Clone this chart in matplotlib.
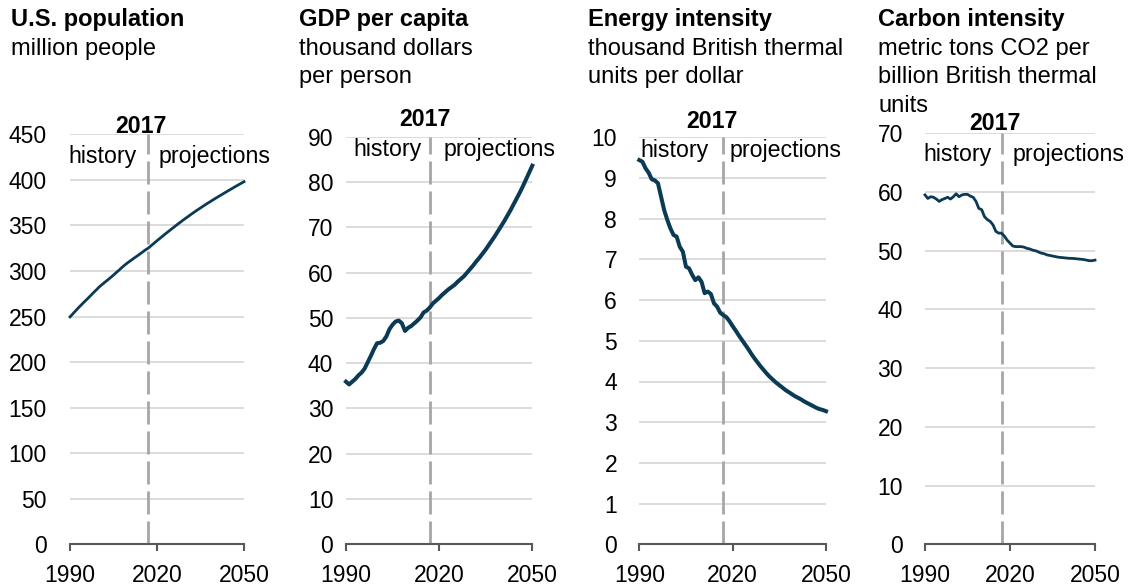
import matplotlib
matplotlib.use("Agg")
import matplotlib.pyplot as plt
import numpy as np

plt.rcParams['font.family'] = ['Liberation Sans', 'DejaVu Sans']

# ---- data -------------------------------------------------------------
years = list(range(1990, 2051))

# million people
population = [
    249.6, 253.0, 256.5, 259.9, 263.1, 266.3, 269.4, 272.6, 275.9, 279.0,
    282.2, 285.0, 287.6, 290.1, 292.8, 295.5, 298.4, 301.2, 304.1, 306.8,
    309.3, 311.6, 313.9, 316.1, 318.4, 320.7, 323.1, 325.1, 327.8, 330.5,
    333.2, 335.8, 338.4, 341.0, 343.5, 346.0, 348.5, 351.0, 353.4, 355.8,
    358.1, 360.4, 362.7, 364.9, 367.1, 369.2, 371.3, 373.4, 375.4, 377.4,
    379.4, 381.3, 383.2, 385.1, 387.0, 388.9, 390.7, 392.6, 394.4, 396.2,
    398.0,
]

# thousand dollars per person
gdp_per_capita = [
    35.9, 35.3, 35.9, 36.5, 37.3, 37.9, 38.8, 40.2, 41.6, 43.1,
    44.4, 44.5, 44.9, 45.9, 47.5, 48.5, 49.2, 49.4, 48.8, 47.1,
    47.8, 48.2, 48.8, 49.4, 50.1, 51.2, 51.6, 52.3, 53.2, 53.8,
    54.4, 55.1, 55.7, 56.3, 56.8, 57.3, 58.0, 58.6, 59.2, 60.0,
    60.8, 61.6, 62.5, 63.3, 64.2, 65.1, 66.1, 67.1, 68.1, 69.2,
    70.3, 71.4, 72.6, 73.8, 75.1, 76.4, 77.7, 79.1, 80.6, 82.1,
    83.6,
]

# thousand Btu per dollar
energy_intensity = [
    9.44, 9.40, 9.24, 9.13, 8.97, 8.94, 8.87, 8.54, 8.21, 7.97,
    7.76, 7.60, 7.56, 7.31, 7.19, 6.82, 6.78, 6.62, 6.49, 6.56,
    6.45, 6.17, 6.21, 6.15, 5.92, 5.84, 5.69, 5.63, 5.58, 5.48,
    5.36, 5.25, 5.13, 5.02, 4.91, 4.80, 4.68, 4.57, 4.47, 4.37,
    4.28, 4.19, 4.11, 4.04, 3.97, 3.91, 3.85, 3.79, 3.74, 3.69,
    3.64, 3.60, 3.56, 3.51, 3.47, 3.43, 3.39, 3.35, 3.32, 3.30,
    3.27,
]

# metric tons CO2 per billion Btu
carbon_intensity = [
    59.5, 58.9, 59.2, 59.1, 58.8, 58.4, 58.7, 58.9, 59.1, 58.8,
    59.2, 59.7, 59.2, 59.5, 59.6, 59.6, 59.3, 59.1, 58.4, 57.2,
    57.0, 55.8, 55.3, 55.0, 54.4, 53.3, 53.0, 53.0, 52.5, 51.8,
    51.3, 50.8, 50.7, 50.7, 50.7, 50.6, 50.4, 50.3, 50.1, 50.0,
    49.8, 49.6, 49.5, 49.3, 49.2, 49.1, 49.0, 48.9, 48.85, 48.8,
    48.75, 48.7, 48.7, 48.65, 48.6, 48.55, 48.5, 48.4, 48.3, 48.3,
    48.4,
]

titles = ["U.S. population", "GDP per capita", "Energy intensity", "Carbon intensity"]
subtitles = [
    ["million people"],
    ["thousand dollars", "per person"],
    ["thousand British thermal", "units per dollar"],
    ["metric tons CO2 per", "billion British thermal", "units"],
]
series = [population, gdp_per_capita, energy_intensity, carbon_intensity]
y_max = [450, 90, 10, 70]
y_step = [50, 10, 1, 10]
x_ticks = [1990, 2020, 2050]
split_year = 2017
split_label = "2017"
left_label = "history"
right_label = "projections"

# ---- layout / style ---------------------------------------------------
W, H = 1135, 587
FS = 16.5          # tick labels
FS_HEAD = 17.0     # panel headings
FS_NOTE = 16.7     # split annotations
LINE_COLOR = "#0b3a55"
GRID_COLOR = "#d9d9d9"
AXIS_COLOR = "#595959"
DASH_COLOR = "#a6a6a6"

# axes boxes in pixels: left, top, right, bottom
boxes = [(70, 134.3, 244, 544.3), (346, 136.7, 532.3, 544.3),
         (639.3, 137.3, 826, 544.3), (925, 133.3, 1095, 544.3)]
line_widths = [2.0, 2.9, 2.9, 2.0]
ytick_pads = [16.8, 9.1, 16.0, 15.8]
title_x = [11, 299, 588, 878]
# split label placements (pixels): 2017 centre x, 2017 baseline, history right, projections left, label baseline
split_pos = [(140.5, 133.2, 136.7, 158.3, 162.7),
             (425.0, 126.5, 421.7, 443.3, 156.5),
             (712.0, 127.5, 708.3, 730.0, 157.5),
             (995.0, 129.9, 991.7, 1013.0, 161.5)]

fig = plt.figure(figsize=(W / 100, H / 100), dpi=100)


def put(x, y, s, size, **kw):
    fig.text(x / W, 1 - y / H, s, fontsize=size, color="black", **kw)


for i in range(4):
    l, t, r, b = boxes[i]
    ax = fig.add_axes([l / W, 1 - b / H, (r - l) / W, (b - t) / H])
    ax.plot(years, series[i], color=LINE_COLOR, lw=line_widths[i],
            solid_joinstyle="round", clip_on=False, zorder=3)
    ax.axvline(split_year, color=DASH_COLOR, lw=2.0, ls=(0, (8.3, 2.5)), zorder=2)

    ax.set_xlim(1990, 2050)
    ax.set_ylim(0, y_max[i])
    ax.set_xticks(x_ticks)
    ax.set_yticks(np.arange(0, y_max[i] + y_step[i] / 2, y_step[i]))
    ax.grid(axis="y", color=GRID_COLOR, lw=1.3)
    ax.set_axisbelow(True)
    for side in ("left", "top", "right"):
        ax.spines[side].set_visible(False)
    ax.spines["bottom"].set_color(AXIS_COLOR)
    ax.spines["bottom"].set_linewidth(1.5)
    ax.tick_params(axis="y", length=0, pad=ytick_pads[i], labelsize=FS)
    ax.tick_params(axis="x", length=5, width=1.5, color=AXIS_COLOR,
                   direction="out", pad=9.5, labelsize=FS)

    # panel heading
    put(title_x[i], 26, titles[i], FS_HEAD, fontweight="bold", va="baseline", ha="left")
    for k, line in enumerate(subtitles[i]):
        put(title_x[i], 55 + 28.5 * k, line, FS_HEAD, va="baseline", ha="left")

    # history / projections split
    cx, cy, hx, px_, ly = split_pos[i]
    put(cx, cy, split_label, FS_NOTE, fontweight="bold", ha="center", va="baseline")
    put(hx, ly, left_label, FS_NOTE, ha="right", va="baseline")
    put(px_, ly, right_label, FS_NOTE, ha="left", va="baseline")

fig.savefig("out.png", dpi=100)
